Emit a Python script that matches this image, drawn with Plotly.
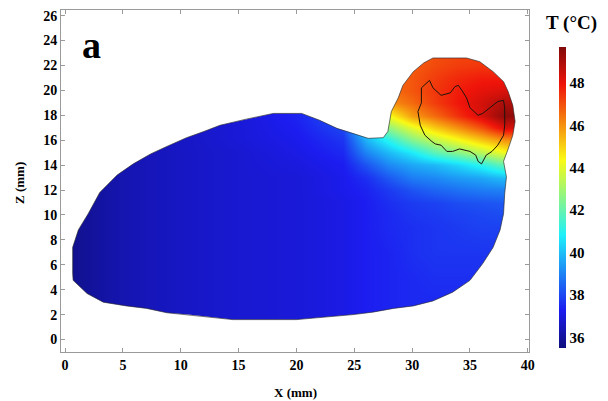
import plotly.graph_objects as go

# ---------------- data ----------------
x_nodes = [0, 5, 10, 15, 20, 24, 26, 28, 30, 32, 34, 36, 38, 40]
z_nodes = [1, 3, 5, 7, 9, 10, 11, 12, 13, 14, 15, 16, 17, 18, 19, 20, 21, 22, 23]

temperature = [
    [35.7, 36.3, 36.6, 36.8, 36.9, 37.1, 37.3, 37.4, 37.5, 37.5, 37.5, 37.5, 37.5, 37.5],  # z=1
    [35.7, 36.3, 36.6, 36.8, 36.9, 37.1, 37.3, 37.4, 37.5, 37.5, 37.5, 37.5, 37.5, 37.5],  # z=3
    [35.7, 36.3, 36.6, 36.8, 36.9, 37.1, 37.3, 37.4, 37.5, 37.6, 37.6, 37.6, 37.6, 37.6],  # z=5
    [35.7, 36.3, 36.6, 36.8, 36.9, 37.1, 37.3, 37.4, 37.6, 37.7, 37.7, 37.7, 37.7, 37.7],  # z=7
    [35.7, 36.3, 36.6, 36.8, 36.9, 37.1, 37.3, 37.5, 37.6, 37.7, 37.8, 37.9, 37.9, 37.9],  # z=9
    [35.7, 36.3, 36.6, 36.8, 36.9, 37.1, 37.3, 37.5, 37.7, 37.8, 37.9, 38.0, 38.1, 38.1],  # z=10
    [35.7, 36.3, 36.6, 36.8, 36.9, 37.1, 37.3, 37.6, 37.8, 37.9, 38.1, 38.2, 38.3, 38.3],  # z=11
    [35.7, 36.3, 36.6, 36.8, 36.9, 37.2, 37.4, 37.8, 38.2, 38.5, 38.7, 38.9, 39.0, 39.0],  # z=12
    [35.7, 36.3, 36.6, 36.8, 36.9, 37.2, 37.6, 38.3, 38.9, 39.1, 39.4, 39.6, 40.0, 40.0],  # z=13
    [35.7, 36.3, 36.6, 36.8, 37.0, 37.3, 38.2, 39.1, 39.6, 39.9, 40.4, 41.1, 42.0, 42.0],  # z=14
    [35.7, 36.3, 36.6, 36.8, 37.1, 37.5, 39.0, 39.9, 40.7, 41.8, 42.5, 43.3, 44.2, 44.5],  # z=15
    [35.7, 36.3, 36.6, 36.9, 37.2, 37.7, 39.8, 41.1, 42.5, 43.5, 44.3, 45.2, 46.0, 46.3],  # z=16
    [35.7, 36.3, 36.6, 36.9, 37.3, 38.0, 40.6, 42.7, 44.0, 45.1, 46.0, 47.0, 48.3, 48.3],  # z=17
    [35.7, 36.3, 36.6, 36.9, 37.4, 38.3, 41.5, 44.3, 45.8, 46.6, 47.5, 48.4, 49.5, 49.3],  # z=18
    [35.7, 36.3, 36.6, 36.9, 37.4, 38.6, 43.0, 46.0, 46.6, 47.3, 47.9, 48.4, 49.0, 48.8],  # z=19
    [35.7, 36.3, 36.6, 36.9, 37.4, 38.8, 43.5, 46.5, 46.9, 47.4, 47.8, 48.1, 48.3, 48.2],  # z=20
    [35.7, 36.3, 36.6, 36.9, 37.4, 38.8, 43.5, 46.6, 46.9, 47.3, 47.6, 47.8, 47.8, 47.8],  # z=21
    [35.7, 36.3, 36.6, 36.9, 37.4, 38.8, 43.5, 46.6, 46.8, 47.1, 47.3, 47.4, 47.3, 47.3],  # z=22
    [35.7, 36.3, 36.6, 36.9, 37.4, 38.8, 43.5, 46.5, 46.7, 47.0, 47.1, 47.2, 47.1, 47.1],  # z=23
]

# outline of the computational domain (mm), clockwise
boundary_x = [0.66, 0.66, 1.15, 2.0, 3.0, 4.5, 5.9, 7.4, 8.8, 10.5, 12.0, 13.4, 15.7, 18.0, 20.45,
              22.0, 23.5, 24.9, 26.2, 27.5, 27.9, 28.2, 28.8, 29.2, 30.1, 31.0, 31.8, 34.7, 35.85,
              37.0, 37.9, 38.3, 38.7, 38.9, 38.7, 38.3, 37.9, 38.15, 38.0, 37.9, 37.6, 37.0, 36.1,
              35.0, 33.5, 31.8, 30.1, 28.4, 26.6, 24.9, 20.0, 14.5, 10.65, 8.8, 7.05, 5.3, 3.3, 1.9, 0.7]
boundary_z = [5.3, 7.4, 8.8, 10.1, 11.8, 13.2, 14.1, 14.9, 15.5, 16.2, 16.7, 17.2, 17.7, 18.15, 18.15,
              17.6, 16.95, 16.55, 16.15, 16.2, 16.7, 18.3, 19.4, 20.4, 21.5, 22.2, 22.6, 22.6, 22.3,
              21.5, 20.7, 19.9, 18.8, 17.5, 16.4, 15.3, 14.3, 13.05, 11.7, 10.1, 8.8, 7.4, 6.1,
              4.75, 3.8, 3.1, 2.7, 2.5, 2.2, 2.0, 1.6, 1.6, 2.0, 2.15, 2.5, 2.7, 3.0, 3.7, 4.75]

# tumour contour (mm)
tumor_x = [31.5, 31.8, 32.5, 33.3, 33.7, 34.0, 34.3, 34.7, 35.0, 35.7, 36.1, 36.7, 37.4, 37.9, 38.0,
           38.0, 37.9, 37.4, 36.9, 36.4, 36.0, 35.7, 35.5, 35.0, 34.1, 33.5, 33.0, 32.5, 32.0, 31.7,
           31.1, 30.7, 30.5, 30.8, 30.8, 31.5]
tumor_z = [20.8, 20.2, 19.6, 19.8, 20.3, 20.4, 20.0, 19.4, 18.6, 18.0, 18.15, 18.6, 19.1, 19.2, 18.6,
           17.2, 16.4, 15.6, 15.1, 14.8, 14.1, 14.3, 14.8, 15.1, 15.3, 15.1, 15.1, 15.6, 15.7, 15.9,
           16.4, 17.2, 18.3, 19.0, 20.2, 20.8]

x_ticks = [0, 5, 10, 15, 20, 25, 30, 35, 40]
z_ticks = [0, 2, 4, 6, 8, 10, 12, 14, 16, 18, 20, 22, 24, 26]
cbar_ticks = [36, 38, 40, 42, 44, 46, 48]
t_min, t_max = 35.5, 49.7

jet = [[0.0, 'rgb(15,15,125)'], [0.125, 'rgb(28,28,240)'], [0.375, 'rgb(30,240,250)'],
       [0.625, 'rgb(250,250,20)'], [0.875, 'rgb(240,20,10)'], [1.0, 'rgb(128,10,10)']]

SERIF = 'Liberation Serif, Times New Roman, serif'

# ---------------- figure ----------------
L, R, T, B = 61, 79, 10, 49
W, H = 608, 401
pw, ph = W - L - R, H - T - B

fig = go.Figure()

fig.add_trace(go.Heatmap(
    x=x_nodes, y=z_nodes, z=temperature, zsmooth='best',
    colorscale=jet, zmin=t_min, zmax=t_max, hoverinfo='skip',
    colorbar=dict(
        thickness=7, thicknessmode='pixels',
        len=301, lenmode='pixels',
        x=(559 - L) / pw, xanchor='left', xpad=0,
        y=(H - B - 348) / ph, yanchor='bottom', ypad=0,
        outlinewidth=0, borderwidth=0,
        tickvals=cbar_ticks, ticks='',
        tickfont=dict(family=SERIF, size=15, color='black', weight='bold'),
    ),
))

# white mask outside the domain (outer box clockwise, domain counter-clockwise)
ox0, ox1, oz0, oz1 = -3, 43, -3, 29
mask_x = [ox0, ox0, ox1, ox1, ox0, ox0] + [boundary_x[0]] + boundary_x[::-1] + [ox0]
mask_z = [boundary_z[0], oz1, oz1, oz0, oz0, boundary_z[0]] + [boundary_z[0]] + boundary_z[::-1] + [boundary_z[0]]
fig.add_trace(go.Scatter(x=mask_x, y=mask_z, mode='lines', fill='toself',
                         fillcolor='white', line=dict(width=0, color='white'),
                         hoverinfo='skip', showlegend=False))

# domain outline
fig.add_trace(go.Scatter(x=boundary_x + [boundary_x[0]], y=boundary_z + [boundary_z[0]],
                         mode='lines', line=dict(color='rgba(40,40,40,0.8)', width=0.8),
                         hoverinfo='skip', showlegend=False))

# tumour contour
fig.add_trace(go.Scatter(x=tumor_x, y=tumor_z, mode='lines',
                         line=dict(color='rgb(30,20,10)', width=1),
                         hoverinfo='skip', showlegend=False))

axis_common = dict(showline=True, linecolor='#9a9a9a', linewidth=1, mirror='ticks',
                   ticks='inside', ticklen=4, tickcolor='#9a9a9a', tickwidth=1,
                   showgrid=False, zeroline=False,
                   tickfont=dict(family=SERIF, size=14, color='black', weight='bold'))

fig.update_layout(
    width=W, height=H,
    margin=dict(l=L, r=R, t=T, b=B),
    paper_bgcolor='white', plot_bgcolor='white',
    showlegend=False,
    xaxis=dict(range=[-0.35, 40.1], tickvals=x_ticks, **axis_common),
    yaxis=dict(range=[-1.0, 26.45], tickvals=z_ticks, **axis_common),
    annotations=[
        dict(text='X (mm)', xref='paper', yref='paper', x=0.5, y=(H - B - 392) / ph,
             xanchor='center', yanchor='middle', showarrow=False,
             font=dict(family=SERIF, size=13, color='black', weight='bold')),
        dict(text='Z (mm)', xref='paper', yref='paper', x=(20 - L) / pw, y=(H - B - 183) / ph,
             xanchor='center', yanchor='middle', showarrow=False, textangle=-90,
             font=dict(family=SERIF, size=13, color='black', weight='bold')),
        dict(text='a', xref='paper', yref='paper', x=(91 - L) / pw, y=(H - B - 45) / ph,
             xanchor='center', yanchor='middle', showarrow=False,
             font=dict(family=SERIF, size=38, color='black', weight='bold')),
        dict(text='T (°C)', xref='paper', yref='paper', x=(571 - L) / pw, y=(H - B - 23) / ph,
             xanchor='center', yanchor='middle', showarrow=False,
             font=dict(family=SERIF, size=19, color='black', weight='bold')),
    ],
)

fig.write_html('out.html', config={'displayModeBar': False},
               post_script="document.body.style.margin='0px';")
